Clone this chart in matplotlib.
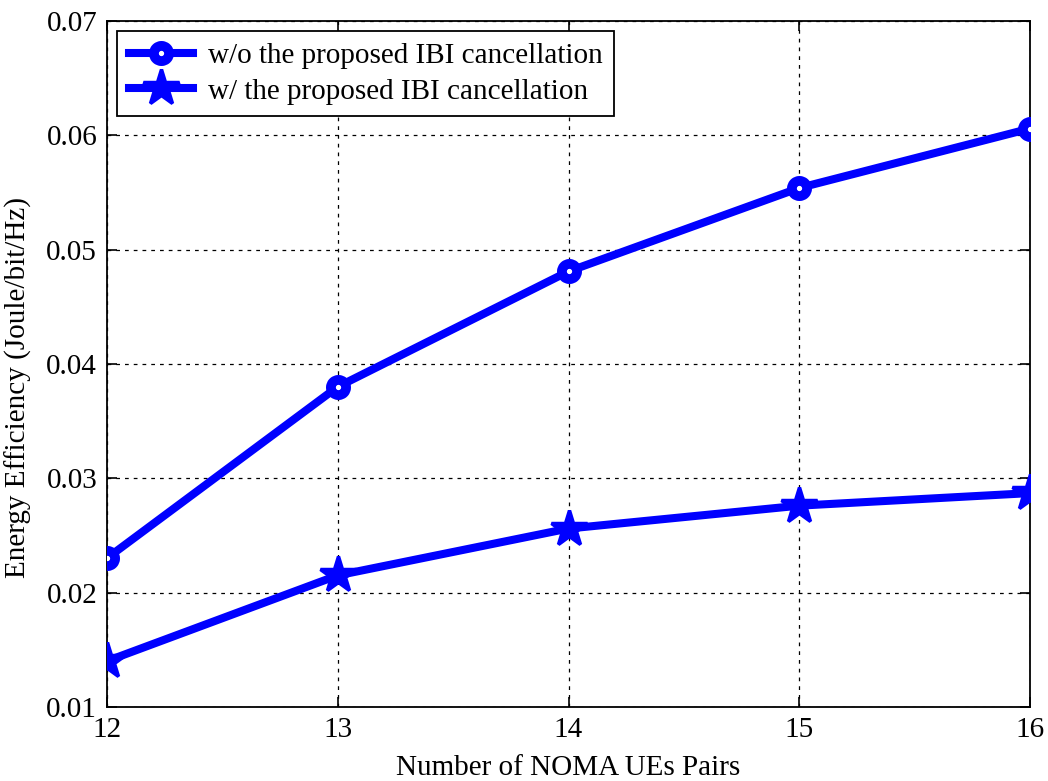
import matplotlib
matplotlib.use('Agg')

import matplotlib.pyplot as plt

# Energy efficiency vs number of NOMA UE pairs
pairs = [12, 13, 14, 15, 16]
ee_without = [0.0230, 0.0380, 0.0481, 0.0554, 0.0606]
ee_with = [0.0140, 0.0215, 0.0256, 0.0276, 0.0287]
yticks = [0.01, 0.02, 0.03, 0.04, 0.05, 0.06, 0.07]

plt.rcParams['font.family'] = ['Liberation Serif', 'DejaVu Serif']

DPI = 100
FS = 21
fig = plt.figure(figsize=(10.48, 7.81), dpi=DPI)
ax = fig.add_axes([0.102, 0.095, 0.881, 0.878])

ax.plot(pairs, ee_without, color='#0000ff', lw=5.8, marker='o', ms=11,
        mfc='white', mec='#0000ff', mew=7,
        label='w/o the proposed IBI cancellation', zorder=3)
ax.plot(pairs, ee_with, color='#0000ff', lw=5.8, marker='*', ms=27,
        mfc='#0000ff', mec='#0000ff', mew=2.5,
        label='w/ the proposed IBI cancellation', zorder=3)

ax.set_xlim(12, 16)
ax.set_ylim(0.01, 0.07)
ax.set_xticks(pairs)
ax.set_yticks(yticks)
ax.set_yticklabels(['%g' % v for v in yticks])
ax.grid(True, color='black', linestyle=(0, (3, 4)), linewidth=0.9)
ax.tick_params(direction='in', length=7, width=1.2, labelsize=FS,
               top=True, right=True, pad=7)
for s in ax.spines.values():
    s.set_linewidth(1.3)

ax.set_xlabel('Number of NOMA UEs Pairs', fontsize=FS, labelpad=9)
ax.set_ylabel('Energy Efficiency (Joule/bit/Hz)', fontsize=FS)
ax.yaxis.set_label_coords(-0.081, 0.466)

leg = ax.legend(loc='upper left', fontsize=FS, fancybox=False, framealpha=1,
                edgecolor='black', handlelength=2.2, handletextpad=0.5,
                borderpad=0.4, labelspacing=0.3, borderaxespad=0.35)
leg.get_frame().set_linewidth(1.3)

plt.savefig('out.png', dpi=DPI)
